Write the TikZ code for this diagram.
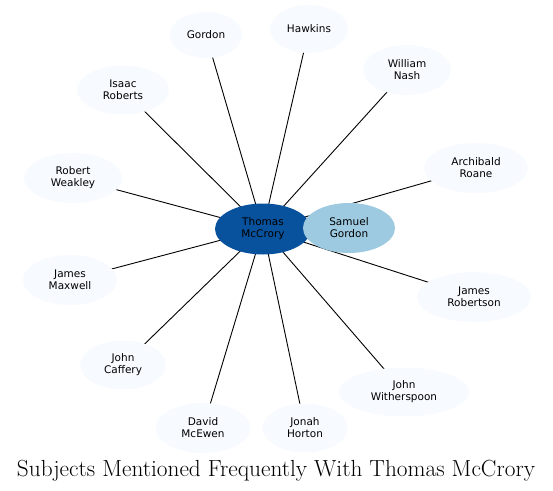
\documentclass[tikz,border=0pt]{standalone}
\usepackage{fontspec}
\newfontfamily\labelfont{DejaVu Sans}
\usetikzlibrary{shapes.geometric, backgrounds}
\definecolor{CoreBlue}{HTML}{08519C}
\definecolor{NearBlue}{HTML}{9ECAE1}
\definecolor{PaleBlue}{HTML}{F7FBFF}
\tikzset{
  person/.style={ellipse, fill=PaleBlue, inner sep=0pt, minimum height=49pt,
    align=center, font=\labelfont\fontsize{10.5}{12}\selectfont},
  link/.style={line width=0.9pt, black}
}

\begin{document}
\begin{tikzpicture}[x=1pt, y=-1pt]
\useasboundingbox (0,0) rectangle (553,490);
% the one in the middle and the one next to him
\node[person, fill=CoreBlue, minimum width=96pt, minimum height=51pt] (mccrory) at (263,229) {Thomas\\McCrory};
\node[person, fill=NearBlue, minimum width=92pt, minimum height=50pt] (sgordon) at (349,228) {Samuel\\Gordon};
% everyone else round the ring
\node[person, minimum width=73pt, minimum height=46pt] (gordon) at (206,35) {Gordon};
\node[person, minimum width=78pt, minimum height=48pt] (hawkins) at (309,29) {Hawkins};
\node[person, minimum width=88pt, minimum height=50pt] (nash) at (407,70) {William\\Nash};
\node[person, minimum width=92pt] (roberts) at (123,90) {Isaac\\Roberts};
\node[person, minimum width=104pt, minimum height=50pt] (roane) at (476,168) {Archibald\\Roane};
\node[person, minimum width=98pt, minimum height=50pt] (weakley) at (73,178) {Robert\\Weakley};
\node[person, minimum width=94pt, minimum height=50pt] (maxwell) at (70,280) {James\\Maxwell};
\node[person, minimum width=114pt, minimum height=50pt] (robertson) at (474,297) {James\\Robertson};
\node[person, minimum width=86pt] (caffery) at (123,365) {John\\Caffery};
\node[person, minimum width=130pt] (witherspoon) at (404,392) {John\\Witherspoon};
\node[person, minimum width=95pt, minimum height=50pt] (mcewen) at (203,428) {David\\McEwen};
\node[person, minimum width=85pt] (horton) at (305,428) {Jonah\\Horton};

\node[anchor=base, font=\fontsize{23.3}{26}\selectfont] (title) at (276,476) {Subjects Mentioned Frequently With Thomas McCrory};

\begin{scope}[on background layer]
\foreach \who in {sgordon,gordon,hawkins,nash,roberts,roane,weakley,maxwell,robertson,caffery,witherspoon,mcewen,horton}
  \draw[link] (mccrory.center) -- (\who.center);
\end{scope}
\end{tikzpicture}
\end{document}
